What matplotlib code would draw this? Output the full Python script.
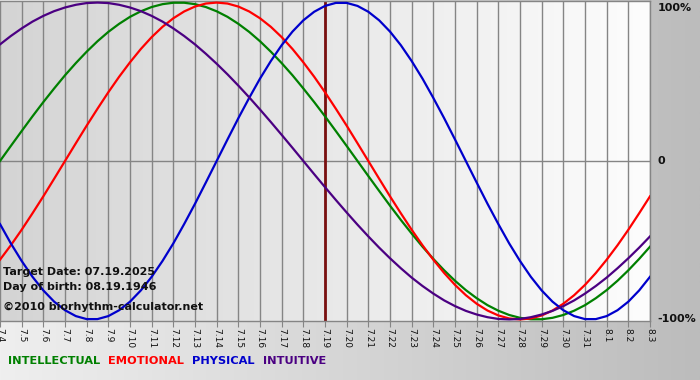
import numpy as np
import matplotlib
matplotlib.use('Agg')
import matplotlib.pyplot as plt
from matplotlib.colors import LinearSegmentedColormap

# day labels, 7.4 .. 8.3
dates = ['7.4', '7.5', '7.6', '7.7', '7.8', '7.9', '7.10', '7.11', '7.12', '7.13',
         '7.14', '7.15', '7.16', '7.17', '7.18', '7.19', '7.20', '7.21', '7.22', '7.23',
         '7.24', '7.25', '7.26', '7.27', '7.28', '7.29', '7.30', '7.31', '8.1', '8.2', '8.3']

# curve values read every half day (first value at 7.4, last at 8.3)
intellectual = [0.000, 0.095, 0.189, 0.282, 0.372, 0.458, 0.541, 0.618, 0.690, 0.756,
                0.815, 0.866, 0.910, 0.945, 0.972, 0.990, 0.999, 0.999, 0.990, 0.972,
                0.945, 0.910, 0.866, 0.815, 0.756, 0.690, 0.618, 0.541, 0.458, 0.372,
                0.282, 0.189, 0.095, 0.000, -0.095, -0.189, -0.282, -0.372, -0.458, -0.541,
                -0.618, -0.690, -0.756, -0.815, -0.866, -0.910, -0.945, -0.972, -0.990, -0.999,
                -0.999, -0.990, -0.972, -0.945, -0.910, -0.866, -0.815, -0.756, -0.690, -0.618,
                -0.541]
emotional = [-0.623, -0.532, -0.434, -0.330, -0.223, -0.112, 0.000, 0.112, 0.223, 0.330,
             0.434, 0.532, 0.623, 0.707, 0.782, 0.847, 0.901, 0.944, 0.975, 0.994,
             1.000, 0.994, 0.975, 0.944, 0.901, 0.847, 0.782, 0.707, 0.623, 0.532,
             0.434, 0.330, 0.223, 0.112, 0.000, -0.112, -0.223, -0.330, -0.434, -0.532,
             -0.623, -0.707, -0.782, -0.847, -0.901, -0.944, -0.975, -0.994, -1.000, -0.994,
             -0.975, -0.944, -0.901, -0.847, -0.782, -0.707, -0.623, -0.532, -0.434, -0.330,
             -0.223]
physical = [-0.398, -0.520, -0.631, -0.731, -0.817, -0.888, -0.942, -0.979, -0.998, -0.998,
            -0.979, -0.942, -0.888, -0.817, -0.731, -0.631, -0.520, -0.398, -0.270, -0.136,
            0.000, 0.136, 0.270, 0.398, 0.520, 0.631, 0.731, 0.817, 0.888, 0.942,
            0.979, 0.998, 0.998, 0.979, 0.942, 0.888, 0.817, 0.731, 0.631, 0.520,
            0.398, 0.270, 0.136, 0.000, -0.136, -0.270, -0.398, -0.520, -0.631, -0.731,
            -0.817, -0.888, -0.942, -0.979, -0.998, -0.998, -0.979, -0.942, -0.888, -0.817,
            -0.731]
intuitive = [0.736, 0.789, 0.837, 0.880, 0.916, 0.946, 0.969, 0.986, 0.997, 1.000,
             0.997, 0.986, 0.969, 0.946, 0.916, 0.880, 0.837, 0.789, 0.736, 0.677,
             0.614, 0.547, 0.476, 0.402, 0.325, 0.246, 0.165, 0.083, 0.000, -0.083,
             -0.165, -0.246, -0.325, -0.402, -0.476, -0.547, -0.614, -0.677, -0.736, -0.789,
             -0.837, -0.880, -0.916, -0.946, -0.969, -0.986, -0.997, -1.000, -0.997, -0.986,
             -0.969, -0.946, -0.916, -0.880, -0.837, -0.789, -0.736, -0.677, -0.614, -0.547,
             -0.476]

target_day = '7.19'
info = ['Target Date: 07.19.2025', 'Day of birth: 08.19.1946', '\u00a92010 biorhythm-calculator.net']

series = [('INTELLECTUAL', intellectual, '#008000'),
          ('EMOTIONAL', emotional, '#ff0000'),
          ('PHYSICAL', physical, '#0000cc'),
          ('INTUITIVE', intuitive, '#4b0082')]

W, H = 700, 380
fig = plt.figure(figsize=(W / 100, H / 100), dpi=100)

# figure background gradient
bg = fig.add_axes([0, 0, 1, 1])
bg.imshow(np.linspace(0, 1, 256)[None, :], aspect='auto', extent=[0, 1, 0, 1],
          cmap=LinearSegmentedColormap.from_list('bg', ['#efefef', '#bcbcbc']))
bg.set_axis_off()

x = np.arange(len(dates))
xh = np.arange(2 * len(dates) - 1) / 2.0
ax = fig.add_axes([0, (H - 321) / H, 650 / W, 320 / H])
ax.set_xlim(0, len(dates) - 1)
ax.set_ylim(-1.01, 1.01)
ax.imshow(np.linspace(0, 1, 256)[None, :], aspect='auto',
          extent=[0, len(dates) - 1, -1.01, 1.01], zorder=0,
          cmap=LinearSegmentedColormap.from_list('pl', ['#d4d4d4', '#fdfdfd']))

for xi in x:
    ax.axvline(xi, color='#858585', lw=1.0, zorder=1)
ax.axhline(0, color='#858585', lw=1.0, zorder=1)

ti = dates.index(target_day)
ax.axvline(ti, color='#7a1010', lw=2.0, zorder=2)

for name, vals, col in series:
    ax.plot(xh, vals, color=col, lw=1.6, zorder=3, solid_joinstyle='round')

ax.spines['left'].set_visible(False)
for s in ['top', 'bottom', 'right']:
    ax.spines[s].set_color('#858585')
    ax.spines[s].set_linewidth(1.0)

ax.set_xticks(x)
ax.set_xticklabels(dates, rotation=270, fontsize=6.5, color='#111111')
ax.tick_params(axis='x', length=4, color='#858585', pad=1)
ax.set_yticks([])

for lbl, yv in [('100%', 1.0), ('0', 0.0), ('-100%', -1.0)]:
    ax.text(1.012, yv, lbl, transform=ax.get_yaxis_transform(), ha='left',
            va='center' if lbl != '100%' else 'top', fontsize=8, fontweight='bold',
            color='#111111', clip_on=False)

for t, yp in zip(info, [272, 287, 307]):
    fig.text(3 / W, 1 - yp / H, t, ha='left', va='center', fontsize=8,
             fontweight='bold', color='#111111')

xp = 8
for name, vals, col in series:
    t = fig.text(xp / W, 1 - 361 / H, name, ha='left', va='center',
                 fontsize=8.2, fontweight='bold', color=col)
    fig.canvas.draw()
    bb = t.get_window_extent()
    xp = bb.x1 + 8

fig.savefig('out.png', dpi=100)
